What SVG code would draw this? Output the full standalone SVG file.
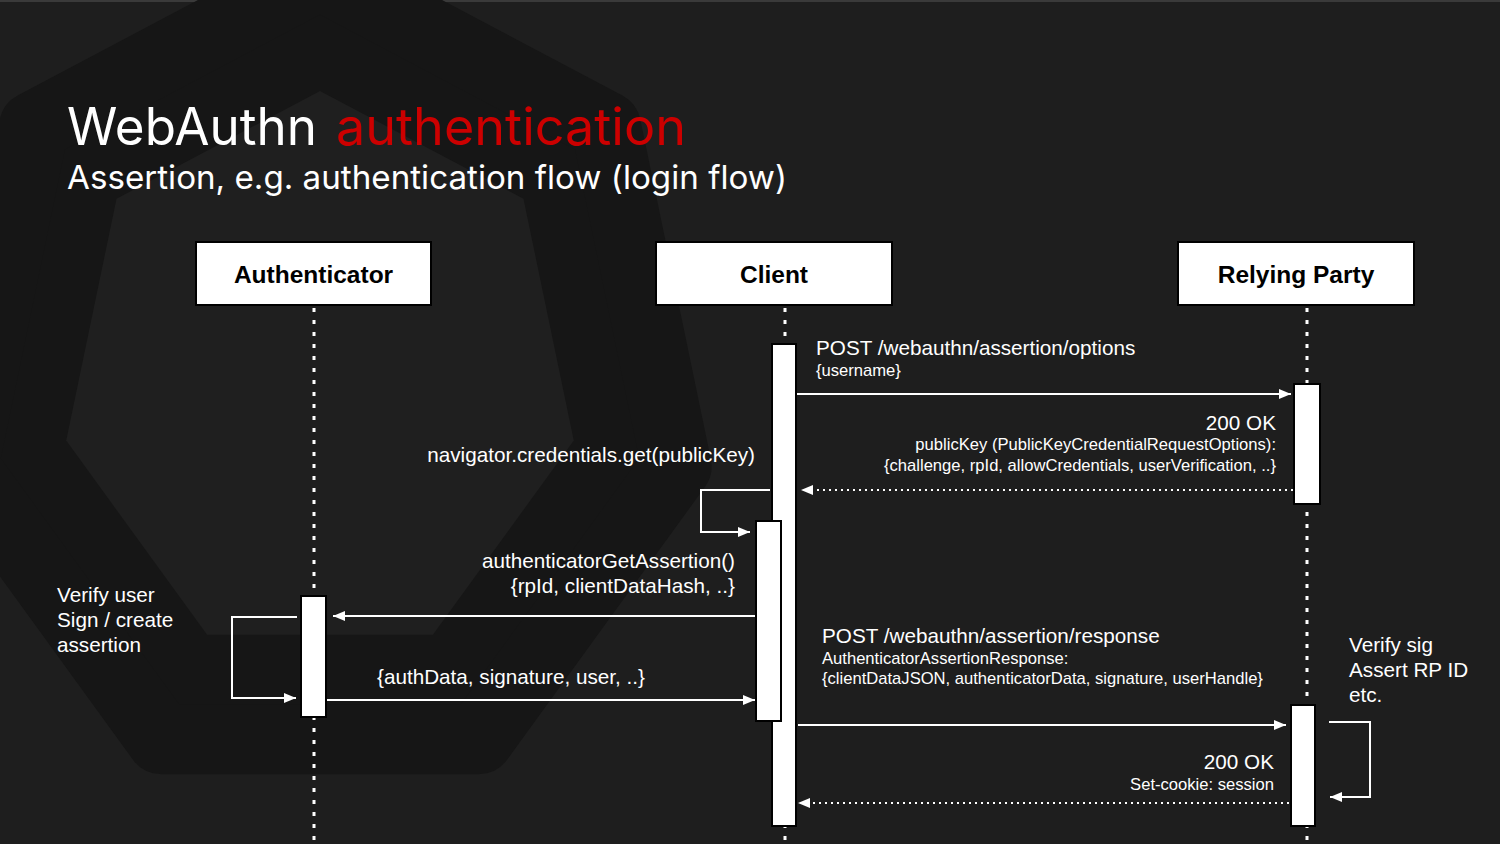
<svg xmlns="http://www.w3.org/2000/svg" width="1500" height="844" viewBox="0 0 1500 844">
<style>
.lbl{font-family:"Liberation Sans",Arial,sans-serif;fill:#ffffff;font-size:20.7px}
.sm{font-family:"Liberation Sans",Arial,sans-serif;fill:#ffffff;font-size:16.6px}
.hdr{font-family:"Liberation Sans",Arial,sans-serif;fill:#000000;font-size:24.5px;font-weight:bold}
.ttl{font-family:Inter,"Liberation Sans",sans-serif;font-size:52px}
.sub{font-family:Inter,"Liberation Sans",sans-serif;font-size:33px;fill:#ffffff}
.box{fill:#ffffff;stroke:#000000;stroke-width:2}
.bar{fill:#ffffff;stroke:#000000;stroke-width:2}
.life{stroke:#ffffff;stroke-width:3;stroke-dasharray:4 8;fill:none}
.msg{stroke:#ffffff;stroke-width:2;fill:none}
.ret{stroke:#ffffff;stroke-width:2;stroke-dasharray:2 4;fill:none}
</style>
<defs>
<marker id="ah" viewBox="0 0 12 10" refX="12" refY="5" markerWidth="12" markerHeight="10" markerUnits="userSpaceOnUse" orient="auto">
<path d="M0,0 L12,5 L0,10 z" fill="#ffffff"/>
</marker>
</defs>
<rect x="0" y="0" width="1500" height="844" fill="#1e1e1e"/>
<rect x="0" y="0" width="1500" height="2" fill="#3a3a3a"/>
<g id="background">
<polygon points="320,-25 606,126.4 676.6,466.4 478.7,739.2 161.3,739.2 -36.6,466.4 34,126.4" fill="#161616" stroke="#161616" stroke-width="70" stroke-linejoin="round"/>
<polygon points="320,91 523.5,198.7 573.8,440.6 432.9,634.7 207.1,634.7 66.2,440.6 116.5,198.7" fill="#1f1f1f"/>
</g>
<g id="title">
<text class="ttl" x="67" y="145" fill="#ffffff" textLength="250" lengthAdjust="spacingAndGlyphs">WebAuthn</text>
<text class="ttl" x="336" y="145" fill="#cc0000" textLength="350" lengthAdjust="spacingAndGlyphs">authentication</text>
<text class="sub" x="67" y="189" textLength="720" lengthAdjust="spacingAndGlyphs">Assertion, e.g. authentication flow (login flow)</text>
</g>
<g id="lifelines">
<line class="life" x1="314" y1="308" x2="314" y2="844"/>
<line class="life" x1="785" y1="308" x2="785" y2="844"/>
<line class="life" x1="1307" y1="308" x2="1307" y2="844"/>
</g>
<g id="authenticator">
<rect class="box" x="196" y="242" width="235" height="63"/>
<text class="hdr" x="313.5" y="283" text-anchor="middle">Authenticator</text>
<rect class="bar" x="301" y="596" width="25" height="121"/>
</g>
<g id="client">
<rect class="box" x="656" y="242" width="236" height="63"/>
<text class="hdr" x="774" y="283" text-anchor="middle">Client</text>
<rect class="bar" x="772" y="344" width="24" height="482"/>
<rect class="bar" x="756" y="521" width="25" height="200"/>
</g>
<g id="relying-party">
<rect class="box" x="1178" y="242" width="236" height="63"/>
<text class="hdr" x="1296" y="283" text-anchor="middle">Relying Party</text>
<rect class="bar" x="1294" y="384" width="26" height="120"/>
<rect class="bar" x="1291" y="705" width="24" height="121"/>
</g>
<g id="connectors">
<line class="msg" x1="797" y1="394" x2="1291" y2="394" marker-end="url(#ah)"/>
<line class="ret" x1="1293" y1="490" x2="801" y2="490" marker-end="url(#ah)"/>
<polyline class="msg" points="770,490 701,490 701,532 750,532" marker-end="url(#ah)"/>
<line class="msg" x1="755" y1="616" x2="333" y2="616" marker-end="url(#ah)"/>
<polyline class="msg" points="297,617 232,617 232,698 296,698" marker-end="url(#ah)"/>
<line class="msg" x1="327" y1="700" x2="755" y2="700" marker-end="url(#ah)"/>
<line class="msg" x1="798" y1="725" x2="1286" y2="725" marker-end="url(#ah)"/>
<line class="ret" x1="1289" y1="803" x2="798" y2="803" marker-end="url(#ah)"/>
<polyline class="msg" points="1329,722 1370,722 1370,797 1330,797" marker-end="url(#ah)"/>
</g>
<g id="labels">
<text class="lbl" x="816" y="355">POST /webauthn/assertion/options</text>
<text class="sm" x="816" y="376">{username}</text>
<text class="lbl" x="1276" y="430" text-anchor="end">200 OK</text>
<text class="sm" x="1276" y="450" text-anchor="end">publicKey (PublicKeyCredentialRequestOptions):</text>
<text class="sm" x="1276" y="471" text-anchor="end">{challenge, rpId, allowCredentials, userVerification, ..}</text>
<text class="lbl" x="755" y="462" text-anchor="end">navigator.credentials.get(publicKey)</text>
<text class="lbl" x="735" y="568" text-anchor="end">authenticatorGetAssertion()</text>
<text class="lbl" x="735" y="593" text-anchor="end">{rpId, clientDataHash, ..}</text>
<text class="lbl" x="57" y="602">Verify user</text>
<text class="lbl" x="57" y="627">Sign / create</text>
<text class="lbl" x="57" y="652">assertion</text>
<text class="lbl" x="377" y="684">{authData, signature, user, ..}</text>
<text class="lbl" x="822" y="643">POST /webauthn/assertion/response</text>
<text class="sm" x="822" y="664">AuthenticatorAssertionResponse:</text>
<text class="sm" x="822" y="684">{clientDataJSON, authenticatorData, signature, userHandle}</text>
<text class="lbl" x="1274" y="769" text-anchor="end">200 OK</text>
<text class="sm" x="1274" y="790" text-anchor="end">Set-cookie: session</text>
<text class="lbl" x="1349" y="652">Verify sig</text>
<text class="lbl" x="1349" y="677">Assert RP ID</text>
<text class="lbl" x="1349" y="702">etc.</text>
</g>
</svg>
